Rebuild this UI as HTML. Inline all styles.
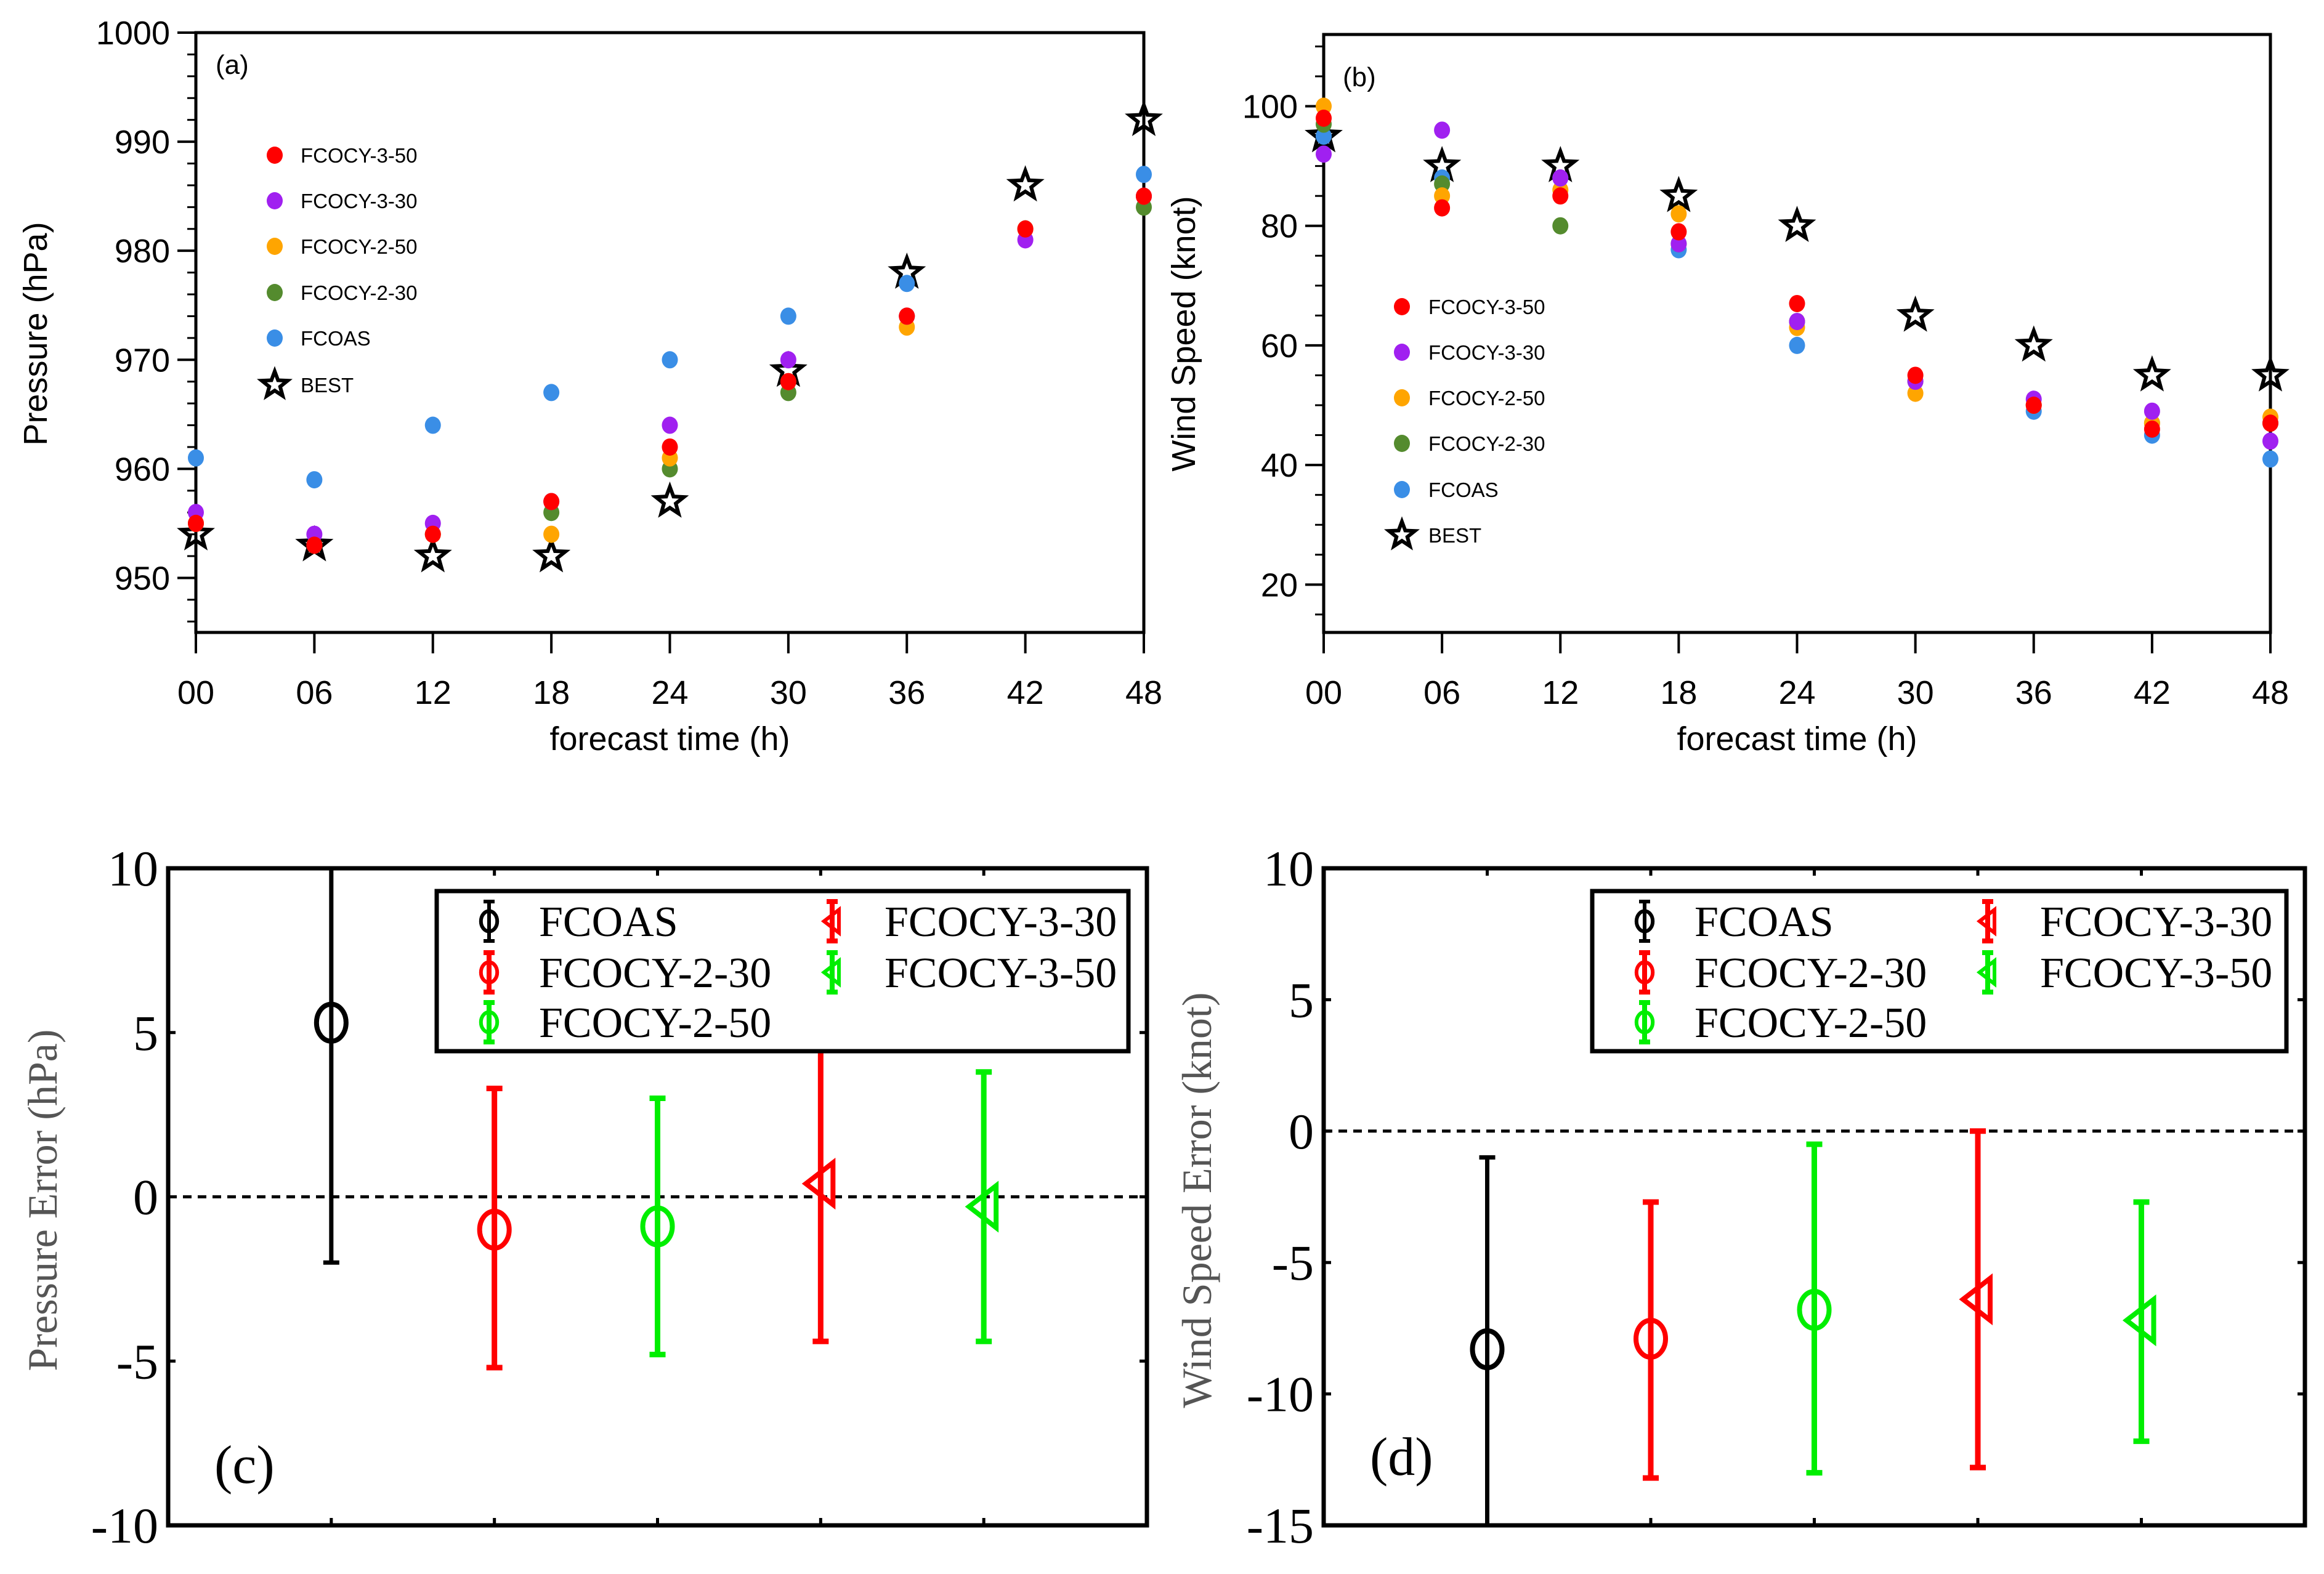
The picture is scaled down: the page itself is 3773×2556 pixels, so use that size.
<!DOCTYPE html>
<html><head><meta charset="utf-8"><style>
html,body{margin:0;padding:0;background:#fff;}
svg{display:block;}
</style></head><body>
<svg id="fig" xmlns="http://www.w3.org/2000/svg" width="3773" height="2556" viewBox="0 0 3773 2556">
<rect width="3773" height="2556" fill="#fff"/>
</svg>
<script>
// ---- data panel (a) & (b) ----
const hours = [0,6,12,18,24,30,36,42,48];
const hourLabels = ["00","06","12","18","24","30","36","42","48"];
const seriesNames = ["FCOCY-3-50","FCOCY-3-30","FCOCY-2-50","FCOCY-2-30","FCOAS","BEST"];
const pFCOAS = [961,959,964,967,970,974,977,982,987];
const pCY230 = [955,953,954,956,960,967,974,982,984];
const pCY250 = [955,953,954,954,961,968,973,982,985];
const pCY330 = [956,954,955,957,964,970,974,981,985];
const pCY350 = [955,953,954,957,962,968,974,982,985];
const pBEST  = [954,953,952,952,957,969,978,986,992];
const pTicks = [950,960,970,980,990,1000];
const wFCOAS = [95,88,88,76,60,54,49,45,41];
const wCY230 = [97,87,80,77,64,54,50,47,47];
const wCY250 = [100,85,86,82,63,52,50,47,48];
const wCY330 = [92,96,88,77,64,54,51,49,44];
const wCY350 = [98,83,85,79,67,55,50,46,47];
const wBEST  = [95,90,90,85,80,65,60,55,55];
const wTicks = [20,40,60,80,100];
// ---- data panel (c) & (d) ----
const errNames = ["FCOAS","FCOCY-2-30","FCOCY-2-50","FCOCY-3-30","FCOCY-3-50"];
const pErrMean = [5.3,-1.0,-0.9,0.4,-0.3];
const pErrHi   = [10,3.3,3.0,5.1,3.8];
const pErrLo   = [-2.0,-5.2,-4.8,-4.4,-4.4];
const wErrMean = [-8.3,-7.9,-6.8,-6.4,-7.2];
const wErrHi   = [-1.0,-2.7,-0.5,0.0,-2.7];
const wErrLo   = [-15,-13.2,-13.0,-12.8,-11.8];
const pErrTicks = [10,5,0,-5,-10];
const wErrTicks = [10,5,0,-5,-10,-15];

const NS="http://www.w3.org/2000/svg";
const svg=document.getElementById('fig');
function mk(tag,attrs,parent){const e=document.createElementNS(NS,tag);for(const k in attrs)e.setAttribute(k,attrs[k]);(parent||svg).appendChild(e);return e;}
function txt(s,attrs,parent){const e=mk('text',attrs,parent);e.textContent=s;return e;}
const SANS='"Liberation Sans", Arial, sans-serif';
const SERIF='"Liberation Serif", "Times New Roman", serif';
const colors={"FCOCY-3-50":"#ff0000","FCOCY-3-30":"#a020f0","FCOCY-2-50":"#ffa500","FCOCY-2-30":"#548b2e","FCOAS":"#3a8ee6"};

function starPts(cx,cy,R){const r=R*0.42;let p=[];for(let i=0;i<10;i++){const a=-Math.PI/2+i*Math.PI/5;const rr=i%2?r:R;p.push((cx+rr*Math.cos(a)).toFixed(1)+','+(cy+rr*Math.sin(a)).toFixed(1));}return p.join(' ');}

function scatterPanel(o){
  const g=mk('g',{});
  
  
  const X=h=>o.L+(h-0)/48*(o.R-o.L);
  const Y=v=>o.B-(v-o.ymin)/(o.ymax-o.ymin)*(o.B-o.T);
  const fr=mk('rect',{x:o.L,y:o.T,width:o.R-o.L,height:o.B-o.T,fill:'none',stroke:'#000','stroke-width':5},g);
  
  for(let v=Math.ceil(o.ymin/o.minor)*o.minor;v<=o.ymax;v+=o.minor){
    const t=mk('line',{x1:o.L,x2:o.L-14,y1:Y(v),y2:Y(v),stroke:'#000','stroke-width':3},g);
    
  }
  o.ticks.forEach(v=>{
    const t=mk('line',{x1:o.L,x2:o.L-30,y1:Y(v),y2:Y(v),stroke:'#000','stroke-width':4},g);
    
    const l=txt(String(v),{x:o.L-42,y:Y(v)+19,'text-anchor':'end','font-family':SANS,'font-size':54,fill:'#000'},g);
    
  });
  hours.forEach((h,i)=>{
    const t=mk('line',{x1:X(h),x2:X(h),y1:o.B,y2:o.B+34,stroke:'#000','stroke-width':4},g);
    
    const l=txt(hourLabels[i],{x:X(h),y:1143,'text-anchor':'middle','font-family':SANS,'font-size':54,fill:'#000'},g);
    
  });
  const xt=txt('forecast time (h)',{x:(o.L+o.R)/2,y:1218,'text-anchor':'middle','font-family':SANS,'font-size':54,fill:'#000'},g);
  
  const yt=txt(o.ytitle,{x:0,y:0,'text-anchor':'middle','font-family':SANS,'font-size':54,fill:'#000',transform:`translate(${o.ytx},542) rotate(-90)`},g);
  
  const pl=txt(o.label,{x:o.labX,y:o.labY,'font-family':SANS,'font-size':44,fill:'#000'},g);
  
  o.d.BEST.forEach((v,i)=>{
    const s=mk('polygon',{points:starPts(X(hours[i]),Y(v),24),fill:'none',stroke:'#000','stroke-width':6,'stroke-linejoin':'miter'},g);
    
  });
  const order=[["FCOAS",o.d.FCOAS],["FCOCY-2-30",o.d.CY230],["FCOCY-2-50",o.d.CY250],["FCOCY-3-30",o.d.CY330],["FCOCY-3-50",o.d.CY350]];
  order.forEach(([nm,arr])=>{
    arr.forEach((v,i)=>{
      const c=mk('ellipse',{cx:X(hours[i]),cy:Y(v),rx:13,ry:14,fill:colors[nm]},g);
      
    });
  });
  const lg=mk('g',{},g);
  seriesNames.forEach((nm,i)=>{
    const yy=o.legY[i];
    if(nm==='BEST'){
      const s=mk('polygon',{points:starPts(o.legMX,yy,22),fill:'none',stroke:'#000','stroke-width':6},lg);
      
    }else{
      const c=mk('ellipse',{cx:o.legMX,cy:yy,rx:13,ry:14,fill:colors[nm]},lg);
      
    }
    const t=txt(nm,{x:o.legTX,y:yy+12,'font-family':SANS,'font-size':33,fill:'#000'},lg);
    
  });
}

scatterPanel({name:'panel-a-pressure',L:318,R:1857,T:53,B:1027,ymin:945,ymax:1000,ticks:pTicks,minor:2,
  ytitle:'Pressure (hPa)',ytx:76,label:'(a)',labX:350,labY:120,
  d:{FCOAS:pFCOAS,CY230:pCY230,CY250:pCY250,CY330:pCY330,CY350:pCY350,BEST:pBEST},
  legMX:446,legTX:488,legY:[252,326,400,475,549,625]});
scatterPanel({name:'panel-b-wind',L:2149,R:3686,T:56,B:1027,ymin:12,ymax:112,ticks:wTicks,minor:5,
  ytitle:'Wind Speed (knot)',ytx:1940,label:'(b)',labX:2180,labY:140,
  d:{FCOAS:wFCOAS,CY230:wCY230,CY250:wCY250,CY330:wCY330,CY350:wCY350,BEST:wBEST},
  legMX:2276,legTX:2319,legY:[498,572,646,720,795,869]});

const errColors=["#000000","#ff0000","#00ee00","#ff0000","#00ee00"];
const errShapes=["circle","circle","circle","tri","tri"];
function marker(shape,x,y,col,sw,s,parent){
  let e;
  if(shape==='circle') e=mk('ellipse',{cx:x,cy:y,rx:24*s,ry:30*s,fill:'none',stroke:col,'stroke-width':sw},parent);
  else e=mk('polygon',{points:`${x-24*s},${y} ${x+20*s},${y-34*s} ${x+20*s},${y+34*s}`,fill:'none',stroke:col,'stroke-width':sw},parent);
  return e;
}
function errPanel(o){
  const g=mk('g',{});
  
  
  const X=i=>o.L+(i+1)/6*(o.R-o.L);
  const Y=v=>o.B-(v-o.ymin)/(o.ymax-o.ymin)*(o.B-o.T);
  const cp=mk('clipPath',{id:o.name+'-clip'},g);
  mk('rect',{x:o.L,y:o.T,width:o.R-o.L,height:o.B-o.T},cp);
  const z=mk('line',{x1:o.L,x2:o.R,y1:Y(0),y2:Y(0),stroke:'#000','stroke-width':5,'stroke-dasharray':'14,10'},g);
  
  o.ticks.forEach(v=>{
    const l=txt(String(v),{x:o.L-16,y:Y(v)+28,'text-anchor':'end','font-family':SERIF,'font-size':82,fill:'#000'},g);
    
    [[o.L,o.L+12],[o.R,o.R-12]].forEach(([a,b])=>{
      const t=mk('line',{x1:a,x2:b,y1:Y(v),y2:Y(v),stroke:'#000','stroke-width':5},g);
      
    });
  });
  for(let i=0;i<5;i++){
    [[o.T,o.T+12],[o.B,o.B-12]].forEach(([a,b])=>{
      const t=mk('line',{x1:X(i),x2:X(i),y1:a,y2:b,stroke:'#000','stroke-width':5},g);
      
    });
  }
  const bars=mk('g',{'clip-path':`url(#${o.name}-clip)`},g);
  
  for(let i=0;i<5;i++){
    const col=errColors[i],sw=i===0?7:9,x=X(i);
    const v=mk('line',{x1:x,x2:x,y1:Y(o.hi[i]),y2:Y(o.lo[i]),stroke:col,'stroke-width':sw},bars);
    
    [o.hi[i],o.lo[i]].forEach(val=>{
      const c=mk('line',{x1:x-13,x2:x+13,y1:Y(val),y2:Y(val),stroke:col,'stroke-width':sw},bars);
      
    });
    const m=marker(errShapes[i],x,Y(o.mean[i]),col,8,1,bars);
    
  }
  const fr=mk('rect',{x:o.L,y:o.T,width:o.R-o.L,height:o.B-o.T,fill:'none',stroke:'#000','stroke-width':7},g);
  
  const lg=mk('g',{},g);
  const lb=mk('rect',{x:o.legL,y:1447,width:o.legR-o.legL,height:260,fill:'#fff',stroke:'#000','stroke-width':7},lg);
  
  const pos=[[0,0],[0,1],[0,2],[1,0],[1,1]];
  const rowY=[1496,1579,1660];
  for(let i=0;i<5;i++){
    const [c,r]=pos[i];
    const mx=o.legL+(c?642:85), tx=o.legL+(c?727:166), y=rowY[r];
    const col=errColors[i];
    const el=mk('line',{x1:mx,x2:mx,y1:y-32,y2:y+32,stroke:col,'stroke-width':i===0?6:8},lg);
    
    [y-32,y+32].forEach(yy=>{const cc=mk('line',{x1:mx-9,x2:mx+9,y1:yy,y2:yy,stroke:col,'stroke-width':i===0?6:8},lg);});
    const m=marker(errShapes[i],mx,y,col,6,0.55,lg);
    
    const t=txt(errNames[i],{x:tx,y:y+24,'font-family':SERIF,'font-size':70,fill:'#000'},lg);
    
  }
  const yt=txt(o.ytitle,{x:0,y:0,'text-anchor':'middle','font-family':SERIF,'font-size':68,fill:'#555',transform:`translate(${o.ytx},1949) rotate(-90)`},g);
  
  const pl=txt(o.label,{x:o.L+75,y:o.labY,'font-family':SERIF,'font-size':88,fill:'#000'},g);
  
}
errPanel({name:'panel-c-pressure-error',L:273,R:1862,T:1410,B:2477,ymin:-10,ymax:10,ticks:pErrTicks,
  mean:pErrMean,hi:pErrHi,lo:pErrLo,legL:709,legR:1832,ytitle:'Pressure Error (hPa)',ytx:92,label:'(c)',labY:2408});
errPanel({name:'panel-d-wind-error',L:2149,R:3742,T:1410,B:2477,ymin:-15,ymax:10,ticks:wErrTicks,
  mean:wErrMean,hi:wErrHi,lo:wErrLo,legL:2585,legR:3712,ytitle:'Wind Speed Error (knot)',ytx:1966,label:'(d)',labY:2395});
</script>
</body></html>
